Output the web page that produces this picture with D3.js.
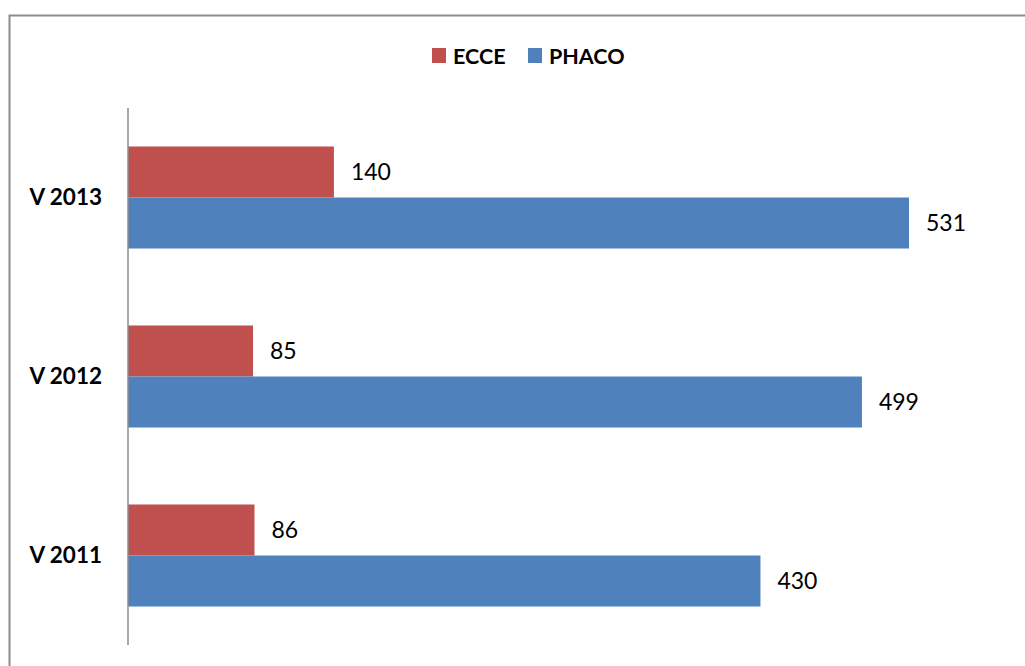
<!DOCTYPE html>
<html>
<head>
<meta charset="utf-8">
<script src="https://cdn.jsdelivr.net/npm/d3@7"></script>
<style>
  html, body { margin: 0; padding: 0; background: #fff; }
  svg { display: block; font-family: Lato, "Open Sans", sans-serif; }
</style>
</head>
<body>
<svg id="chart" width="1025" height="666"></svg>
<script>
// Yearly counts per surgical technique
const categories = ["V 2013", "V 2012", "V 2011"];
const seriesNames = ["ECCE", "PHACO"];
const ecceValues = [140, 85, 86];
const phacoValues = [531, 499, 430];
const seriesColors = ["#C0504D", "#4F81BD"];

const svg = d3.select("#chart");

// Outer chart frame
svg.append("rect")
  .attr("x", 9.5).attr("y", 15.5)
  .attr("width", 1030).attr("height", 670)
  .attr("fill", "none").attr("stroke", "#8c8c8c").attr("stroke-width", 2);

const x0 = 128;
const x = d3.scaleLinear().domain([0, 531]).range([x0, x0 + 781]);
const y = d3.scaleBand().domain(categories).range([108, 645]).paddingInner(0.43).paddingOuter(0.215);
const ySub = d3.scaleBand().domain(seriesNames).range([0, y.bandwidth()]);

const rows = categories.map((c, i) => ({
  cat: c,
  vals: [
    { name: "ECCE", value: ecceValues[i] },
    { name: "PHACO", value: phacoValues[i] }
  ]
}));

const groups = svg.selectAll("g.cat").data(rows).join("g")
  .attr("class", "cat")
  .attr("transform", d => `translate(0,${y(d.cat)})`);

groups.selectAll("rect").data(d => d.vals).join("rect")
  .attr("x", x(0))
  .attr("y", d => ySub(d.name))
  .attr("width", d => x(d.value) - x(0))
  .attr("height", ySub.bandwidth())
  .attr("fill", (d, i) => seriesColors[i]);

groups.selectAll("text.val").data(d => d.vals).join("text")
  .attr("class", "val")
  .attr("x", d => x(d.value) + 17)
  .attr("y", d => ySub(d.name) + ySub.bandwidth() / 2)
  .attr("dy", "0.35em")
  .attr("font-size", 23)
  .attr("fill", "#000")
  .text(d => d.value);

// Category axis
const yAxis = d3.axisLeft(y).tickSize(0).tickPadding(26);
const ag = svg.append("g").attr("transform", `translate(${x0},0)`).call(yAxis);
ag.select(".domain").attr("stroke", "#8c8c8c").attr("stroke-width", 1.5)
  .attr("d", "M0,108V645");
ag.selectAll(".tick text")
  .attr("font-family", "Lato, 'Open Sans', sans-serif")
  .attr("font-size", 22.5).attr("font-weight", "bold").attr("fill", "#000");

// Legend
const legendItems = [
  { name: seriesNames[0], color: seriesColors[0], sx: 432 },
  { name: seriesNames[1], color: seriesColors[1], sx: 528 }
];
const lg = svg.append("g");
lg.selectAll("rect").data(legendItems).join("rect")
  .attr("x", d => d.sx).attr("y", 48).attr("width", 14).attr("height", 15)
  .attr("fill", d => d.color);
lg.selectAll("text").data(legendItems).join("text")
  .attr("x", d => d.sx + 21).attr("y", 56).attr("dy", "0.35em")
  .attr("font-size", 21.5).attr("font-weight", "bold").attr("fill", "#000")
  .text(d => d.name);
</script>
</body>
</html>
